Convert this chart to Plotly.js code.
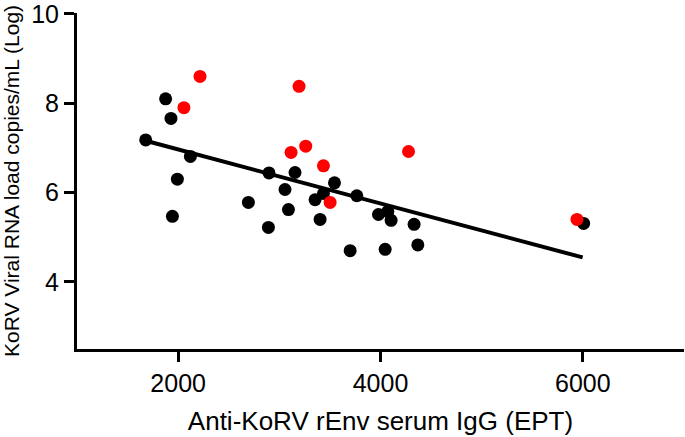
<!DOCTYPE html>
<html>
<head>
<meta charset="utf-8">
<script src="https://cdn.plot.ly/plotly-3.0.1.min.js"></script>
<style>
  html, body { margin: 0; padding: 0; background: #fff; }
  #plot { width: 685px; height: 437px; }
</style>
</head>
<body>
<div id="plot"></div>
<script>
// Black points: anti-KoRV rEnv IgG (EPT) vs viral load (log)
let blackX = [1876, 1929, 1679, 2121, 1992, 1943, 2694,
              2898, 3155, 3056, 3545, 3766, 3436, 3353, 3090, 3403, 2892, 3700,
              3980, 4072, 4105, 4332, 4046, 4369, 6008];
let blackY = [8.10, 7.66, 7.18, 6.81, 6.30, 5.47, 5.78,
              6.44, 6.45, 6.07, 6.22, 5.93, 5.98, 5.84, 5.62, 5.40, 5.22, 4.70,
              5.51, 5.58, 5.38, 5.29, 4.73, 4.83, 5.31];

// Red points
let redX = [2216, 2057, 3195, 3261, 3116, 3436, 3502, 4277, 5942];
let redY = [8.60, 7.90, 8.38, 7.04, 6.90, 6.60, 5.78, 6.92, 5.40];

// Regression line end points
let fitX = [1679, 5998];
let fitY = [7.16, 4.55];

let traceFit = {
  x: fitX,
  y: fitY,
  mode: "lines",
  line: {color: "#000", width: 4},
  hoverinfo: "skip"
};

let traceBlack = {
  x: blackX,
  y: blackY,
  mode: "markers",
  marker: {color: "#000", size: 13}
};

let traceRed = {
  x: redX,
  y: redY,
  mode: "markers",
  marker: {color: "#ff0000", size: 13}
};

let layout = {
  width: 685,
  height: 437,
  margin: {l: 77, r: 1, t: 13, b: 88},
  showlegend: false,
  paper_bgcolor: "#fff",
  plot_bgcolor: "#fff",
  font: {family: "Arial, Liberation Sans, sans-serif", color: "#000"},
  xaxis: {
    range: [1000, 7000],
    tickvals: [2000, 4000, 6000],
    ticks: "outside",
    ticklen: 10,
    tickwidth: 3,
    tickcolor: "#000",
    showline: true,
    linewidth: 3,
    linecolor: "#000",
    showgrid: false,
    zeroline: false,
    tickfont: {size: 25},
    title: {text: "Anti-KoRV rEnv serum IgG (EPT)", font: {size: 26}, standoff: 16}
  },
  yaxis: {
    range: [2.5, 10.02],
    tickvals: [4, 6, 8, 10],
    ticks: "outside",
    ticklen: 10,
    tickwidth: 3,
    tickcolor: "#000",
    showline: true,
    linewidth: 3,
    linecolor: "#000",
    showgrid: false,
    zeroline: false,
    tickfont: {size: 25},
    ticklabeloverflow: "allow",
    title: {text: "KoRV Viral RNA load copies/mL (Log)", font: {size: 21}, standoff: 6}
  }
};

Plotly.newPlot("plot", [traceFit, traceBlack, traceRed], layout, {displayModeBar: false});
</script>
</body>
</html>
